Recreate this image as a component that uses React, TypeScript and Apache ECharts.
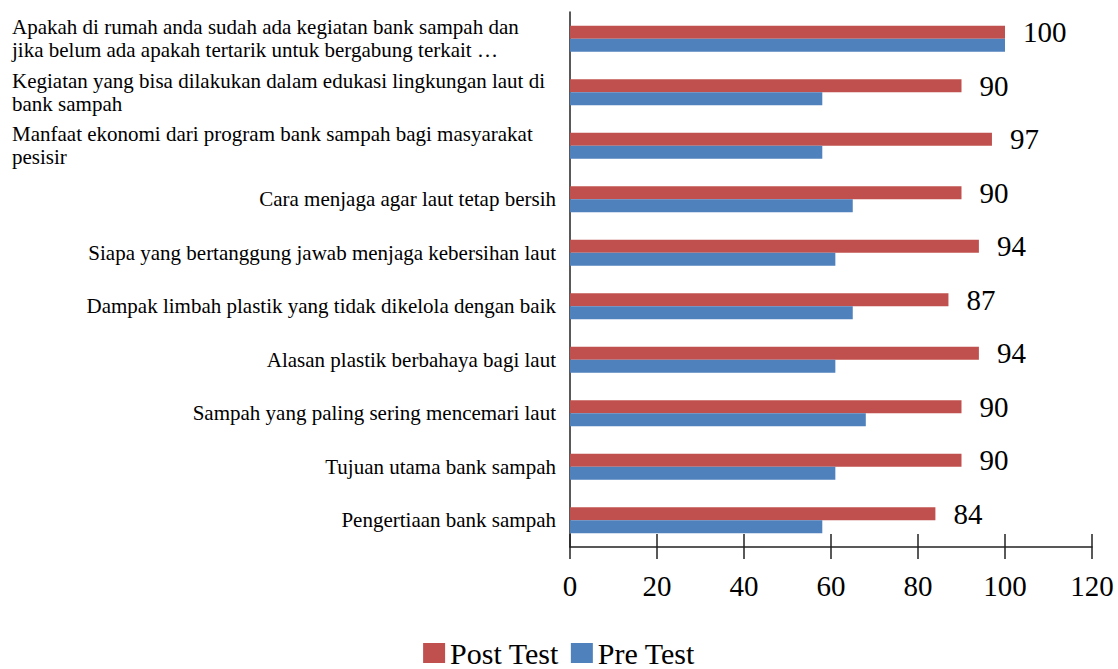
import React, { useEffect, useRef } from "react";
import * as echarts from "echarts";

const categories = [
  "Apakah di rumah anda sudah ada kegiatan bank sampah dan\njika belum ada apakah tertarik untuk bergabung terkait …",
  "Kegiatan yang bisa dilakukan dalam edukasi lingkungan laut di\nbank sampah",
  "Manfaat ekonomi dari program bank sampah bagi masyarakat\npesisir",
  "Cara menjaga agar laut tetap bersih",
  "Siapa yang bertanggung jawab menjaga kebersihan laut",
  "Dampak limbah plastik yang tidak dikelola dengan baik",
  "Alasan plastik berbahaya bagi laut",
  "Sampah yang paling sering mencemari laut",
  "Tujuan utama bank sampah",
  "Pengertiaan bank sampah",
];
const postTest = [100, 90, 97, 90, 94, 87, 94, 90, 90, 84];
const preTest = [100, 58, 58, 65, 61, 65, 61, 68, 61, 58];
const seriesNames = ["Post Test", "Pre Test"];

const FONT = "'Liberation Serif', 'Times New Roman', serif";

export default function App() {
  const ref = useRef<HTMLDivElement>(null);
  useEffect(() => {
    if (!ref.current) return;
    const chart = echarts.init(ref.current, null, { renderer: "svg" });
    chart.setOption({
      animation: false,
      backgroundColor: "#ffffff",
      textStyle: { fontFamily: FONT },
      grid: { left: 570, right: 26, top: 12, bottom: 122, containLabel: false },
      legend: {
        data: seriesNames,
        left: "center",
        top: 638,
        padding: 0,
        itemWidth: 22,
        itemHeight: 20,
        itemGap: 12,
        icon: "rect",
        textStyle: { fontFamily: FONT, fontSize: 30, lineHeight: 24, color: "#000" },
      },
      xAxis: [
        {
          type: "value",
          min: 0,
          max: 120,
          interval: 20,
          position: "bottom",
          splitLine: { show: false },
          axisLine: { show: true, lineStyle: { color: "#222", width: 1.5 } },
          axisTick: { show: true, length: 12, lineStyle: { color: "#222", width: 1.5 } },
          axisLabel: { fontFamily: FONT, fontSize: 29, color: "#000", margin: 24 },
        },
        {
          type: "value",
          min: 0,
          max: 120,
          interval: 20,
          position: "bottom",
          splitLine: { show: false },
          axisLine: { show: false },
          axisTick: { show: true, inside: true, length: 13, lineStyle: { color: "#222", width: 1.5 } },
          axisLabel: { show: false },
        },
      ],
      yAxis: {
        type: "category",
        inverse: true,
        data: categories,
        axisLine: { show: true, lineStyle: { color: "#222", width: 1.5 } },
        axisTick: { show: false },
        axisLabel: {
          fontFamily: FONT,
          fontSize: 21,
          color: "#000",
          margin: 14,
          align: "right",
          lineHeight: 23,
          formatter: (v: string) => {
            if (v.indexOf("\n") >= 0) {
              return v
                .split("\n")
                .map((l) => "{w|" + l + "}")
                .join("\n");
            }
            return v;
          },
          rich: {
            w: {
              width: 544,
              align: "left",
              fontFamily: FONT,
              fontSize: 21,
              lineHeight: 23,
              color: "#000",
            },
          },
        },
      },
      series: [
        {
          name: seriesNames[0],
          type: "bar",
          data: postTest,
          barWidth: 13,
          barGap: "0%",
          itemStyle: { color: "#C0504D" },
          label: {
            show: true,
            position: "right",
            distance: 18,
            fontFamily: FONT,
            fontSize: 29,
            color: "#000",
          },
        },
        {
          name: seriesNames[1],
          type: "bar",
          data: preTest,
          barWidth: 13,
          barGap: "0%",
          itemStyle: { color: "#4F81BD" },
        },
      ],
    });
    return () => chart.dispose();
  }, []);
  return (
    <div
      ref={ref}
      style={{ position: "fixed", left: 0, top: 0, width: 1118, height: 669 }}
    />
  );
}
